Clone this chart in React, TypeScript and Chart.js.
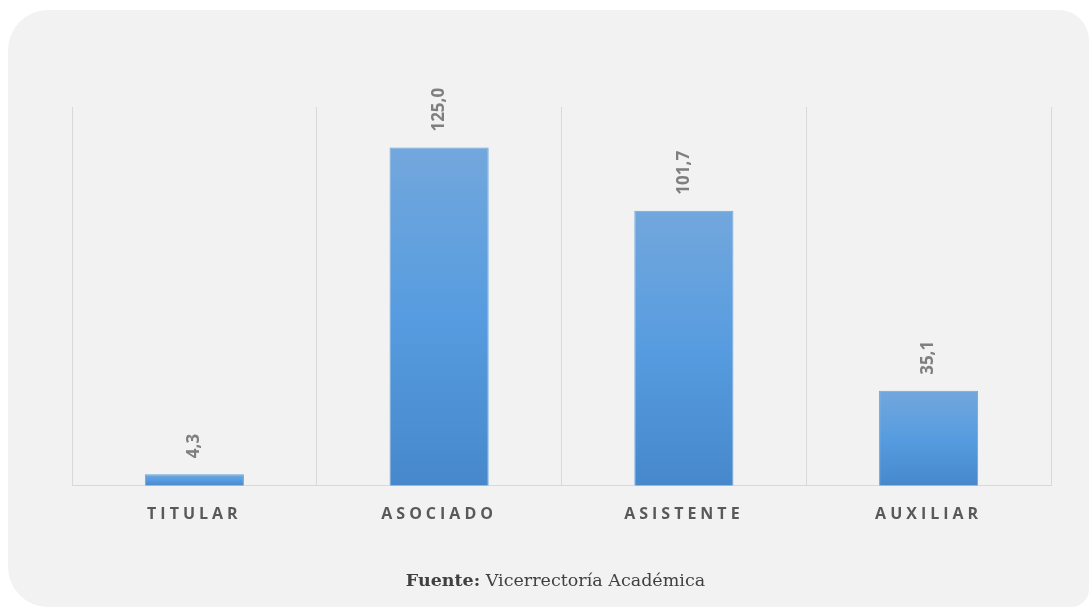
import React, { useEffect, useRef } from "react";
import { Chart, registerables } from "chart.js";

Chart.register(...registerables);

const categories = ["TITULAR", "ASOCIADO", "ASISTENTE", "AUXILIAR"];
const values = [4.3, 125.0, 101.7, 35.1];
const yMax = 140;
const sourceLabel = "Fuente:";
const sourceText = " Vicerrectoría Académica";

const fmt = (v: number) => v.toFixed(1).replace(".", ",");

const labelPlugin = {
  id: "barLabels",
  beforeDraw(chart: any) {
    (chart.ctx as any).letterSpacing = "4px";
  },
  afterDatasetsDraw(chart: any) {
    const ctx = chart.ctx;
    ctx.save();
    (ctx as any).letterSpacing = "0px";
    const meta = chart.getDatasetMeta(0);
    meta.data.forEach((bar: any, i: number) => {
      ctx.save();
      ctx.translate(bar.x, bar.y - 16);
      ctx.rotate(-Math.PI / 2);
      ctx.font = "bold 17px 'Open Sans'";
      ctx.fillStyle = "#7f7f7f";
      ctx.textAlign = "left";
      ctx.textBaseline = "middle";
      ctx.fillText(fmt(values[i]), 0, 0);
      ctx.restore();
    });
    ctx.restore();
  },
};

export default function App() {
  const ref = useRef<HTMLCanvasElement | null>(null);

  useEffect(() => {
    document.body.style.overflow = "hidden";
    const canvas = ref.current!;
    const chart = new Chart(canvas, {
      type: "bar",
      data: {
        labels: categories,
        datasets: [
          {
            data: values,
            backgroundColor: (c: any) => {
              const ch = c.chart;
              const ys = ch.scales?.y;
              if (!ch.chartArea || !ys || c.dataIndex === undefined) return "#5b9bd5";
              const top = ys.getPixelForValue(values[c.dataIndex]);
              const base = ys.getPixelForValue(0);
              if (!isFinite(top) || !isFinite(base) || top === base) return "#5b9bd5";
              const g = ch.ctx.createLinearGradient(0, top, 0, base);
              g.addColorStop(0, "#72a7dc");
              g.addColorStop(0.5, "#579ce0");
              g.addColorStop(1, "#4688cb");
              return g;
            },
            borderColor: "#6aa3dc",
            borderWidth: 1,
            barPercentage: 0.405,
            categoryPercentage: 1,
          },
        ],
      },
      options: {
        animation: false,
        responsive: false,
        maintainAspectRatio: false,
        layout: { padding: { left: 72, right: 40, top: 107, bottom: 66 } },
        plugins: {
          legend: { display: false },
          tooltip: { enabled: false },
        },
        scales: {
          x: {
            grid: { color: "#d9d9d9", lineWidth: 1, drawTicks: false, offset: true },
            border: { color: "#d9d9d9", width: 1 },
            ticks: {
              color: "#595959",
              font: { family: "'Open Sans'", size: 16, weight: "bold" },
              padding: 19,
            },
          },
          y: {
            display: false,
            min: 0,
            max: yMax,
          },
        },
      },
      plugins: [labelPlugin],
    });
    return () => chart.destroy();
  }, []);

  return (
    <div>
      <div
        style={{
          position: "fixed",
          left: 8,
          top: 10,
          width: 1081,
          height: 597,
          background: "#f2f2f2",
          borderRadius: "40px 30px 18px 40px",
        }}
      />
      <canvas
        ref={ref}
        width={1091}
        height={609}
        style={{ position: "fixed", left: 0, top: 0, width: 1091, height: 609 }}
      />
      <div
        style={{
          position: "fixed",
          left: 0,
          width: 1111,
          top: 570,
          textAlign: "center",
          fontFamily: "'DejaVu Serif'",
          fontSize: 17.5,
          color: "#404040",
        }}
      >
        <b>{sourceLabel}</b>
        {sourceText}
      </div>
    </div>
  );
}
